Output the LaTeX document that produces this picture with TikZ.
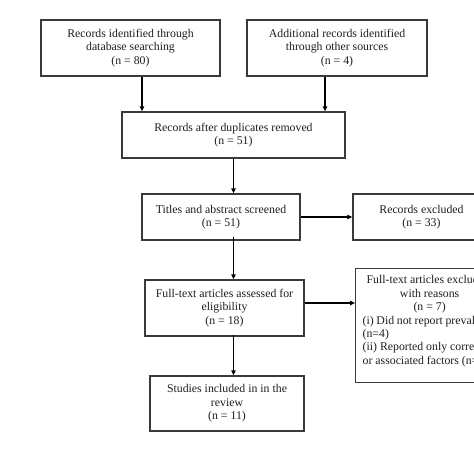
\documentclass[tikz,border=0pt]{standalone}
\usepackage{fontspec}
\setmainfont{Liberation Serif}
\usepackage{tikz}
\usetikzlibrary{arrows.meta, positioning, calc}
\definecolor{BoxLine}{HTML}{3A3A3A}
\definecolor{InkText}{HTML}{1E1E1E}
\tikzset{
    flowbox/.style={rectangle, draw=BoxLine, line width=1.3pt, text=InkText,
                    align=center, inner sep=4pt,
                    font=\fontsize{11.8}{13.4}\selectfont},
    flowarrow/.style={draw=black, line width=1.2pt,
                      -{Triangle[length=5pt,width=4.5pt]}}
}
\begin{document}
\begin{tikzpicture}[x=1pt, y=-1pt]
    \clip (0,0) rectangle (474,474);
    \fill[white] (0,0) rectangle (474,474);

    % identification
    \node[flowbox, minimum width=179pt, minimum height=56pt] (dbsearch) at (130.5,48)
        {Records identified through\\database searching\\(n = 80)};
    \node[flowbox, minimum width=180pt, minimum height=56pt] (othersrc) at (337,48)
        {Additional records identified\\through other sources\\(n = 4)};

    % screening
    \node[flowbox, minimum width=223pt, minimum height=46pt] (dedup) at (233.5,135)
        {Records after duplicates removed\\(n = 51)};
    \node[flowbox, minimum width=158pt, minimum height=46pt] (screened) at (221,217)
        {Titles and abstract screened\\(n = 51)};
    \node[flowbox, minimum width=137pt, minimum height=46pt] (excluded) at (421.5,217)
        {Records excluded\\(n = 33)};

    % eligibility
    \node[flowbox, minimum width=159pt, minimum height=56pt] (fulltext) at (224.5,308)
        {Full-text articles assessed for\\eligibility\\(n = 18)};
    \node[flowbox, anchor=north west, inner sep=7pt, align=left] (ftexcl) at (355,268)
        {\parbox[t][100pt][t]{134pt}{\centering Full-text articles excluded,\\ with reasons\\ (n = 7)\par
         \raggedright (i) Did not report prevalence\\(n=4)\\
         (ii) Reported only correlates\\or associated factors (n=3)}};

    % included
    \node[flowbox, minimum width=154pt, minimum height=55pt] (included) at (227,403.5)
        {Studies included in in the\\review\\(n = 11)};

    % connectors
    \draw[flowarrow] ([xshift=11.5pt]dbsearch.south) -- ([xshift=11.5pt]dbsearch.south |- dedup.north);
    \draw[flowarrow] ([xshift=-12pt]othersrc.south) -- ([xshift=-12pt]othersrc.south |- dedup.north);
    \draw[flowarrow] (dedup.south) -- (dedup.south |- screened.north);
    \draw[flowarrow] (screened.east) -- (excluded.west);
    \draw[flowarrow] ([yshift=4pt]dedup.south |- screened.south) -- (dedup.south |- fulltext.north);
    \draw[flowarrow] ([yshift=5pt]fulltext.east) -- ([yshift=5pt]fulltext.east -| ftexcl.west);
    \draw[flowarrow] ([yshift=2pt]dedup.south |- fulltext.south) -- (dedup.south |- included.north);
\end{tikzpicture}
\end{document}
